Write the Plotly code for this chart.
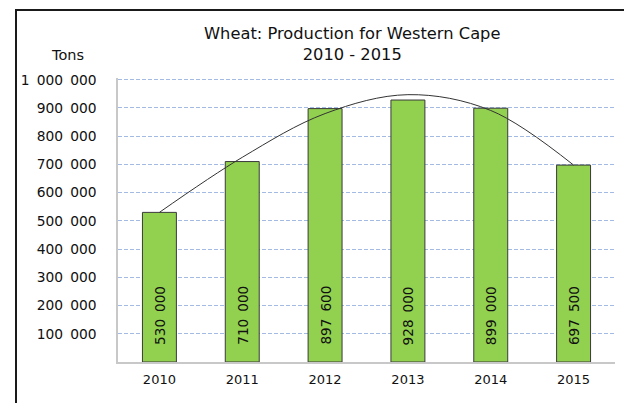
import plotly.graph_objects as go

# ---- data ----
years = ["2010", "2011", "2012", "2013", "2014", "2015"]
production = [530000, 710000, 897600, 928000, 899000, 697500]
# curve drawn over the bars (at each year)
trend = [530000, 725000, 880000, 947000, 891000, 697500]
ytick_vals = [100000, 200000, 300000, 400000, 500000, 600000, 700000, 800000, 900000, 1000000]
ytick_labels = ["100 000", "200 000", "300 000", "400 000", "500 000",
                "600 000", "700 000", "800 000", "900 000", "1 000 000"]
title_line1 = "Wheat: Production for Western Cape"
title_line2 = "2010 - 2015"
unit_label = "Tons"

FONT = "Verdana, DejaVu Sans, sans-serif"
SP = "\u00a0\u2009"  # wide-ish gap between digit groups

def fmt(v):
    return f"{v:,}".replace(",", SP)

W, H = 624, 403
L, R, T, B = 118, 9, 78, 41
pw, ph = W - L - R, H - T - B

def px_x(px):
    return (px - L) / pw

def px_y(py):
    return (H - B - py) / ph

fig = go.Figure()
fig.add_trace(go.Bar(
    x=years, y=production,
    marker=dict(color="#92d050", line=dict(color="#3a3a3a", width=1)),
    width=0.41, hoverinfo="x+y", showlegend=False,
))
fig.add_trace(go.Scatter(
    x=years, y=trend, mode="lines",
    line=dict(color="#333333", width=1, shape="spline", smoothing=1.0),
    hoverinfo="skip", showlegend=False,
))

annotations = []
for i, v in enumerate(production):
    annotations.append(dict(
        x=i, y=0, xref="x", yref="y", text=fmt(v), showarrow=False,
        textangle=-90, xanchor="center", yanchor="bottom", yshift=15,
        font=dict(family=FONT, size=13.6, color="#111111"),
    ))
annotations += [
    dict(x=px_x(352), y=px_y(44), xref="paper", yref="paper",
         text=title_line1 + "<br>" + title_line2,
         showarrow=False, xanchor="center", yanchor="middle", align="center",
         font=dict(family=FONT, size=16.3, color="#111111")),
    dict(x=px_x(67), y=px_y(55), xref="paper", yref="paper", text=unit_label,
         showarrow=False, xanchor="center", yanchor="middle",
         font=dict(family=FONT, size=14.5, color="#111111")),
]

fig.update_layout(
    width=W, height=H,
    margin=dict(l=L, r=R, t=T, b=B, pad=0),
    paper_bgcolor="white", plot_bgcolor="white",
    font=dict(family=FONT, size=13, color="#111111"),
    annotations=annotations,
    bargap=0.59,
    shapes=[dict(type="rect", xref="paper", yref="paper",
                 x0=px_x(16), x1=px_x(640), y0=px_y(420), y1=px_y(10),
                 line=dict(color="#1a1a1a", width=2), fillcolor="rgba(0,0,0,0)",
                 layer="below")],
)
fig.update_xaxes(
    type="category", range=[-0.5, 5.5], showgrid=False, showline=True,
    linecolor="#c8c8c8", linewidth=1.5,
    ticks="", ticklabelstandoff=5,
    tickfont=dict(family=FONT, size=13, color="#111111"),
)
fig.update_yaxes(
    range=[0, 1006000], tickvals=ytick_vals,
    ticktext=[t.replace(" ", SP) for t in ytick_labels],
    showgrid=True, gridcolor="#a3bbe3", griddash="4px,2px", gridwidth=1,
    showline=True, linecolor="#c8c8c8", linewidth=1.5, zeroline=False,
    ticks="", ticklabelstandoff=17,
    tickfont=dict(family=FONT, size=13.8, color="#111111"),
)

fig.write_html("out.html", config={"displayModeBar": False},
               post_script="document.body.style.margin='0px';")
